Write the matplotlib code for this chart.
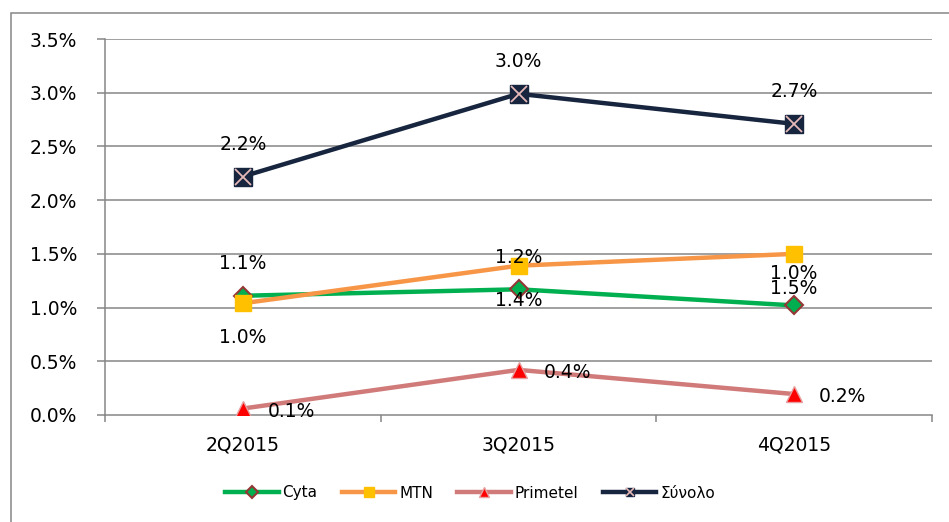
import matplotlib
matplotlib.use("Agg")
import matplotlib.pyplot as plt
from matplotlib.patches import Rectangle
from matplotlib.lines import Line2D
from matplotlib.legend_handler import HandlerTuple

categories = ["2Q2015", "3Q2015", "4Q2015"]
cyta = [1.11, 1.17, 1.02]
mtn = [1.04, 1.39, 1.50]
primetel = [0.06, 0.42, 0.195]
synolo = [2.22, 2.99, 2.71]
series_names = ["Cyta", "MTN", "Primetel", "Σύνολο"]
yticks = [0.0, 0.5, 1.0, 1.5, 2.0, 2.5, 3.0, 3.5]

plt.rcParams['font.family'] = ['DejaVu Sans']

W, H = 949, 522
fig = plt.figure(figsize=(W/100, H/100), dpi=100)
ax = fig.add_axes([105/W, 1-415/H, (932-105)/W, (415-39)/H])

x = list(range(len(categories)))
grid_c = "#868686"

# outer border
fig.patches.append(Rectangle((11/W, -0.1), 1.2, 1-13/H+0.1, transform=fig.transFigure,
                             fill=False, edgecolor=grid_c, lw=1.1, zorder=0))

for yv in yticks[1:]:
    ax.axhline(yv, color=grid_c, lw=1.1, zorder=0)

lw = 3.2
l_cyta, = ax.plot(x, cyta, color="#00B050", lw=lw, marker="D", ms=9,
                  mfc="#00B050", mec="#953735", mew=1.5, zorder=3)
l_mtn, = ax.plot(x, mtn, color="#F79646", lw=lw, marker="s", ms=12,
                 mfc="#FFC000", mec="#FFC000", zorder=3)
l_pr, = ax.plot(x, primetel, color="#D07B79", lw=lw, marker="^", ms=12,
                mfc="#FF0000", mec="#E6A0A0", mew=1.0, zorder=3)
l_sy, = ax.plot(x, synolo, color="#17253F", lw=lw, marker="s", ms=13,
                mfc="#17253F", mec="#17253F", zorder=3)
ax.plot(x, synolo, ls="none", marker="x", ms=12, mec="#E6B9B8", mew=1.3, zorder=4)

fs = 13.5
def lab(vals, dx, dy, ha="center"):
    for xi, v in zip(x, vals):
        ax.annotate(f"{v:.1f}%", (xi, v), xytext=(dx, dy), textcoords="offset points",
                    ha=ha, va="center", fontsize=fs, color="black", zorder=5)

lab(synolo, 0, 23)
lab(cyta, 0, 23)
lab(mtn, 0, -25)
lab(primetel, 18, -2, ha="left")

ax.set_xlim(-0.5, 2.5)
ax.set_ylim(0, 3.5)
ax.set_yticks(yticks)
ax.set_yticklabels([f"{v:.1f}%" for v in yticks], fontsize=fs)
ax.set_xticks(x)
ax.set_xticklabels(categories, fontsize=fs)
ax.set_xticks([-0.5, 0.5, 1.5, 2.5], minor=True)
ax.tick_params(axis="x", which="major", length=0, pad=15)
ax.tick_params(axis="x", which="minor", length=5, color=grid_c, width=1.1, direction="out")
ax.tick_params(axis="y", length=6, color=grid_c, width=1.1, pad=14)
for s in ["top", "right"]:
    ax.spines[s].set_visible(False)
for s in ["left", "bottom"]:
    ax.spines[s].set_color(grid_c)
    ax.spines[s].set_linewidth(1.1)

h_sy = Line2D([], [], color="#17253F", lw=lw, marker="s", ms=8.5, mfc="#17253F", mec="#17253F")
h_sx = Line2D([], [], ls="none", marker="x", ms=8, mec="#E6B9B8", mew=1.2)
leg = fig.legend([l_cyta, l_mtn, l_pr, (h_sy, h_sx)], series_names, loc="center",
                 bbox_to_anchor=(470/W, 1-493/H), ncol=4, frameon=False, fontsize=11,
                 handlelength=3.5, handletextpad=0.25, columnspacing=1.6, markerscale=0.65,
                 handler_map={tuple: HandlerTuple(ndivide=1, pad=0)})

fig.savefig("out.png", dpi=100)
